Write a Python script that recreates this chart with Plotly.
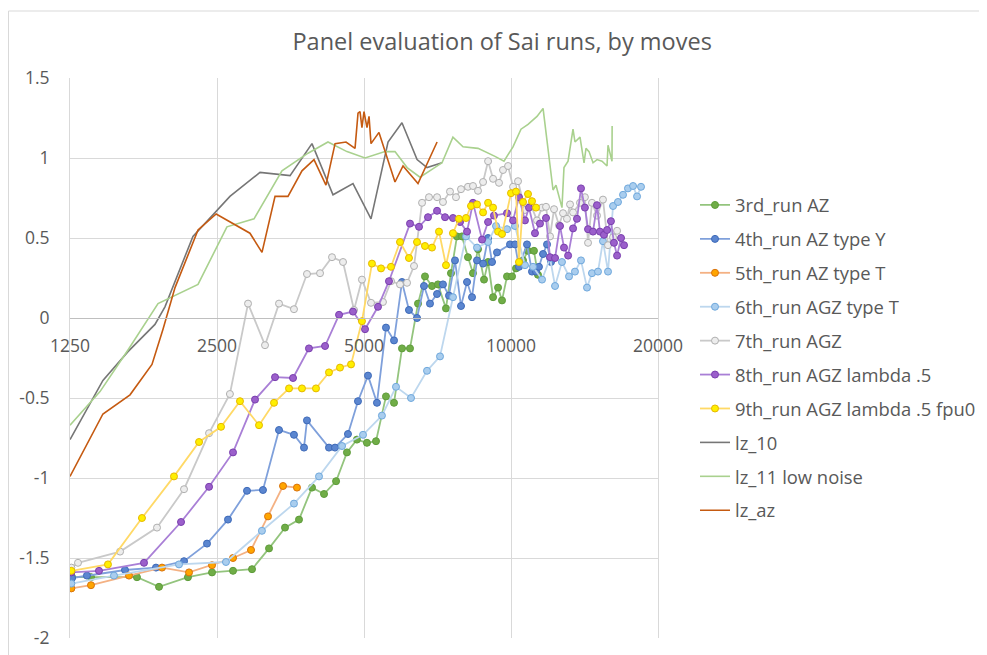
import math
import plotly.graph_objects as go

# --- data (moves, panel evaluation) ---
run3_x = [1262, 1380, 1714, 1902, 2180, 2442, 2696, 2949, 3195, 3445, 3680, 3913, 4141, 4383, 4614,
          4836, 5070, 5291, 5546, 5760, 5981, 6211, 6450, 6666, 6890, 7086, 7360, 7535, 7751, 7935,
          8164, 8359, 8559, 8805, 8975, 9189, 9408, 9585, 9814, 10049, 10239, 10583, 10835, 11143, 11356]
run3_y = [-1.62, -1.62, -1.62, -1.68, -1.62, -1.59, -1.58, -1.57, -1.44, -1.31, -1.26, -1.06, -1.10, -1.02, -0.84,
          -0.76, -0.78, -0.77, -0.49, -0.53, -0.19, -0.19, 0.09, 0.26, 0.20, 0.21, 0.06, 0.28, 0.51, 0.51,
          0.38, 0.28, 0.43, 0.24, 0.35, 0.13, 0.19, 0.11, 0.26, 0.26, 0.31, 0.36, 0.42, 0.42, 0.27]

run4_x = [1262, 1354, 1620, 1875, 2140, 2385, 2633, 2880, 3105, 3349, 3594, 3768, 3821, 4239, 4361, 4636,
          4860, 5095, 5315, 5546, 5760, 5981, 6181, 6420, 6635, 6825, 7056, 7256, 7465, 7679, 7900, 8127,
          8321, 8519, 8766, 8975, 9144, 9361, 9953, 10189, 10383, 10784, 11041, 11250, 11409, 11630, 11851, 12076]
run4_y = [-1.625, -1.61, -1.575, -1.56, -1.52, -1.41, -1.26, -1.08, -1.075, -0.70, -0.73, -0.81, -0.64, -0.81, -0.81, -0.725,
          -0.52, -0.36, -0.53, -0.06, -0.14, 0.225, 0.05, 0.0, 0.20, 0.09, 0.15, 0.21, 0.14, 0.36, 0.075, 0.225,
          0.13, 0.36, 0.34, 0.50, 0.35, 0.41, 0.46, 0.46, 0.32, 0.46, 0.29, 0.29, 0.32, 0.40, 0.46, 0.35]

run5_x = [1258, 1380, 1651, 1929, 2191, 2442, 2696, 2935, 3180, 3413, 3645]
run5_y = [-1.69, -1.67, -1.61, -1.56, -1.59, -1.545, -1.50, -1.45, -1.24, -1.05, -1.06]

run6_x = [1258, 1538, 2090, 2608, 3090, 3594, 4044, 4508, 4977, 5441, 5814, 6241, 6730, 7155,
          7606, 8089, 8519, 8975, 9318, 9814, 10189, 10681, 11095, 11576, 12020, 12308, 12716, 13147,
          13520, 13910, 14310, 14650, 15070, 15430, 15800, 16180, 16560, 16960, 17360, 17780, 18120, 18460]
run6_y = [-1.66, -1.61, -1.54, -1.525, -1.33, -1.16, -0.99, -0.80, -0.73, -0.61, -0.43, -0.50, -0.33, -0.24,
          0.13, 0.51, 0.44, 0.475, 0.575, 0.555, 0.575, 0.33, 0.32, 0.24, 0.375, 0.20, 0.35, 0.26,
          0.29, 0.36, 0.19, 0.28, 0.29, 0.48, 0.29, 0.70, 0.725, 0.77, 0.81, 0.825, 0.76, 0.82]

run7_x = [1258, 1298, 1583, 1884, 2140, 2408, 2657, 2894, 3135, 3349, 3594, 3821, 4064, 4300, 4529, 4770,
          4952, 5168, 5467, 5679, 5925, 6125, 6330, 6574, 6793, 7056, 7256, 7500, 7715, 7900, 8164, 8359,
          8559, 8766, 8975, 9189, 9450, 9630, 9862, 10097, 10337, 10681, 10989, 11303, 11576, 11795, 12020,
          12250, 12540, 12780, 13020, 13210, 13400, 13846, 14170, 14380, 14650, 15000, 15430, 15800, 16180, 16490]
run7_y = [-1.56, -1.53, -1.46, -1.31, -1.07, -0.72, -0.475, 0.09, -0.17, 0.09, 0.055, 0.275, 0.28, 0.38, 0.35, 0.05,
          0.24, 0.095, 0.10, 0.23, 0.21, 0.22, 0.325, 0.72, 0.755, 0.755, 0.725, 0.79, 0.755, 0.805, 0.82, 0.825,
          0.795, 0.85, 0.98, 0.87, 0.845, 0.925, 0.95, 0.82, 0.855, 0.675, 0.705, 0.61, 0.69, 0.695, 0.51,
          0.68, 0.58, 0.655, 0.62, 0.71, 0.66, 0.72, 0.755, 0.47, 0.72, 0.64, 0.74, 0.455, 0.505, 0.545]

run8_x = [1258, 1433, 1772, 2110, 2408, 2696, 2991, 3287, 3578, 3857, 4161, 4445, 4747, 5024, 5341, 5625,
          6211, 6481, 6761, 7056, 7327, 7606, 7862, 8127, 8359, 8724, 8975, 9229, 9814, 10097, 10383, 10681,
          10886, 11197, 11464, 11795, 12020, 12308, 12600, 12840, 13090, 13400, 13650, 13910, 14170, 14380,
          14720, 15000, 15210, 15500, 15730, 16020, 16250, 16490, 16800, 17040]
run8_y = [-1.59, -1.58, -1.53, -1.275, -1.055, -0.84, -0.51, -0.37, -0.375, -0.19, -0.175, 0.02, 0.04, -0.07, 0.07, 0.23,
          0.59, 0.57, 0.63, 0.67, 0.63, 0.625, 0.60, 0.54, 0.72, 0.49, 0.60, 0.64, 0.655, 0.61, 0.755, 0.61,
          0.69, 0.53, 0.59, 0.625, 0.38, 0.375, 0.575, 0.44, 0.39, 0.56, 0.62, 0.81, 0.69, 0.555,
          0.54, 0.705, 0.54, 0.52, 0.55, 0.605, 0.47, 0.39, 0.50, 0.455]

run9_x = [1258, 1495, 1755, 2041, 2297, 2548, 2786, 3048, 3271, 3511, 3732, 3987, 4239, 4465, 4704,
          4952, 5191, 5418, 5679, 5925, 6181, 6420, 6666, 6890, 7121, 7360, 7606, 7823, 8089, 8281,
          8519, 8766, 8975, 9189, 9408, 9585, 10000, 10239, 10383, 10583, 10835, 11041, 11250]
run9_y = [-1.58, -1.54, -1.25, -0.99, -0.775, -0.68, -0.52, -0.67, -0.53, -0.44, -0.44, -0.44, -0.34, -0.31, -0.29,
          -0.02, 0.34, 0.31, 0.32, 0.475, 0.375, 0.475, 0.45, 0.44, 0.54, 0.33, 0.53, 0.62, 0.625, 0.70,
          0.71, 0.66, 0.72, 0.69, 0.54, 0.525, 0.78, 0.79, 0.35, 0.725, 0.775, 0.73, 0.69]

lz10_x = [1250, 1460, 1643, 1866, 1956, 2232, 2657, 3062, 3528, 3912, 4320, 4747, 5168, 5600, 5980, 6422, 6731, 7223]
lz10_y = [-0.76, -0.39, -0.21, -0.04, 0.07, 0.51, 0.76, 0.91, 0.89, 1.09, 0.77, 0.84, 0.62, 1.10, 1.22, 0.99, 0.94, 0.97]

lz11_x = [1250, 1440, 1643, 1893, 2286, 2620, 2977, 3396, 3840, 4219, 4614, 5024, 5520, 5787, 6127, 6511,
          7223, 7605, 7975, 8560, 9273, 9675, 10094, 10483, 10836, 11305, 11632, 12192, 12364, 12717, 12838,
          13087, 13396, 13522, 13846, 14112, 14242, 14448, 14723, 15004, 15359, 15727, 15801, 16100, 16110]
lz11_y = [-0.67, -0.46, -0.20, 0.09, 0.21, 0.57, 0.62, 0.92, 1.03, 1.10, 1.04, 1.00, 1.04, 1.04, 0.94, 0.88,
          0.97, 1.13, 1.07, 1.06, 1.01, 0.98, 1.07, 1.18, 1.21, 1.26, 1.31, 0.80, 0.83, 0.69, 0.94,
          0.98, 1.18, 1.10, 1.13, 0.97, 1.06, 1.04, 0.97, 0.99, 0.98, 0.95, 1.08, 0.98, 1.20]

lzaz_x = [1250, 1460, 1659, 1840, 1938, 2051, 2286, 2490, 2920, 3091, 3287, 3494, 3732, 3950, 4179,
          4362, 4594, 4793, 4861, 4907, 4952, 5000, 5071, 5120, 5168, 5366, 5787, 6010, 6450, 7057]
lzaz_y = [-0.99, -0.60, -0.48, -0.29, -0.07, 0.19, 0.55, 0.65, 0.53, 0.41, 0.76, 0.76, 0.92, 0.99, 0.83,
          1.09, 1.10, 1.06, 1.28, 1.29, 1.19, 1.29, 1.19, 1.26, 1.09, 1.16, 0.85, 0.95, 0.84, 1.10]

x_ticks = [1250, 2500, 5000, 10000, 20000]
y_ticks = [-2, -1.5, -1, -0.5, 0, 0.5, 1, 1.5]
y_ticktext = ['-2', '-1.5', '-1', '-0.5', '0', '0.5', '1', '1.5']

FONT = 'Open Sans'
TEXT_GREY = '#595959'
GRID = '#D9D9D9'

# page body adds an 8px offset, so the figure is 8px smaller and margins shifted
W, H = 979, 647
ML, MR, MT, MB = 62, 329, 70, 17

# name, x, y, line colour, marker fill, marker edge (None = no markers)
series = [
    ('3rd_run AZ', run3_x, run3_y, '#93C47D', '#70AD47', '#5E9C3A'),
    ('4th_run AZ type Y', run4_x, run4_y, '#7FA0DB', '#5B86D0', '#3E6AB8'),
    ('5th_run AZ type T', run5_x, run5_y, '#F4B183', '#FFA500', '#D9730D'),
    ('6th_run AGZ type T', run6_x, run6_y, '#BDD7EE', '#A9CDEE', '#6FA8DC'),
    ('7th_run AGZ', run7_x, run7_y, '#C9C9C9', '#EDEDED', '#B0B0B0'),
    ('8th_run AGZ lambda .5', run8_x, run8_y, '#A97FD6', '#9B5FCB', '#7A3FAE'),
    ('9th_run AGZ lambda .5 fpu0', run9_x, run9_y, '#FFD966', '#FFEF00', '#E6B800'),
    ('lz_10', lz10_x, lz10_y, '#767676', None, None),
    ('lz_11 low noise', lz11_x, lz11_y, '#A9D18E', None, None),
    ('lz_az', lzaz_x, lzaz_y, '#C55A11', None, None),
]

fig = go.Figure()
for i, (name, xs, ys, lc, mc, me) in enumerate(series):
    if mc:
        fig.add_trace(go.Scatter(
            x=xs, y=ys, name=name, mode='lines+markers', legendgroup=str(i),
            line=dict(color=lc, width=1.8),
            marker=dict(size=7, color=mc, line=dict(color=me, width=1)),
        ))
    else:
        fig.add_trace(go.Scatter(
            x=xs, y=ys, name=name, mode='lines', legendgroup=str(i),
            line=dict(color=lc, width=1.6),
        ))

plot_w = W - ML - MR
plot_h = H - MT - MB

fig.update_layout(
    width=W, height=H,
    margin=dict(l=ML, r=MR, t=MT, b=MB),
    paper_bgcolor='white', plot_bgcolor='white',
    font=dict(family=FONT, color=TEXT_GREY, size=17),
    title=dict(text='Panel evaluation of Sai runs, by moves', font=dict(size=23.5, color=TEXT_GREY),
               x=0.735, xref='paper', xanchor='center', y=1 - 34 / H, yref='container', yanchor='middle'),
    legend=dict(x=687 / W, xref='container', xanchor='left',
                y=0.5, yanchor='middle', traceorder='grouped',
                tracegroupgap=7, font=dict(size=18.4, color=TEXT_GREY), bgcolor='rgba(0,0,0,0)'),
    showlegend=True,
)

fig.update_xaxes(
    type='log', range=[math.log10(1250), math.log10(20000)],
    tickvals=x_ticks, ticktext=[str(v) for v in x_ticks],
    showgrid=True, gridcolor=GRID, gridwidth=1, zeroline=False,
    anchor='free', position=2 / 3.5, automargin=False,
    showline=True, linecolor='#BFBFBF', linewidth=1.3,
    ticks='', ticklabelstandoff=12, tickfont=dict(size=17.5, color=TEXT_GREY),
)
fig.update_yaxes(
    range=[-2, 1.5], tickvals=y_ticks, ticktext=y_ticktext,
    showgrid=True, gridcolor=GRID, gridwidth=1, zeroline=False, automargin=False,
    showline=True, linecolor=GRID, mirror=True,
    ticks='', ticklabelstandoff=16, tickfont=dict(size=17.5, color=TEXT_GREY),
)

# chart-area border like the spreadsheet frame
fig.add_shape(type='rect', xref='paper', yref='paper',
              x0=(0.5 - ML) / plot_w, x1=1.7, y0=-0.2, y1=1 + (MT - 3) / plot_h,
              line=dict(color=GRID, width=1), layer='below')

fig.write_html("out.html")
